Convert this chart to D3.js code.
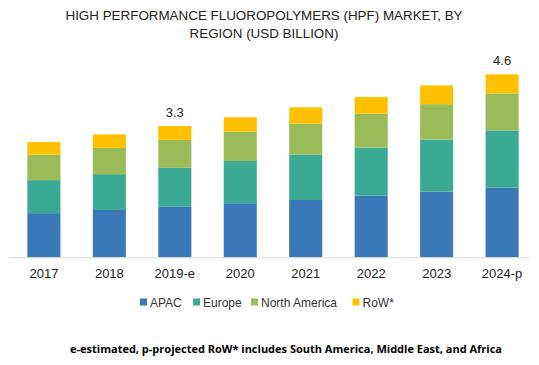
<!DOCTYPE html>
<html>
<head>
<meta charset="utf-8">
<script src="https://cdn.jsdelivr.net/npm/d3@7"></script>
<style>
  body { margin: 0; background: #fff; }
  svg { display: block; font-family: "Liberation Sans", Arial, sans-serif; }
</style>
</head>
<body>
<svg id="chart" width="539" height="365"></svg>
<script>
// chart data
var years = ["2017", "2018", "2019-e", "2020", "2021", "2022", "2023", "2024-p"];
var regions = ["APAC", "Europe", "North America", "RoW*"];
var apac = [1.11, 1.19, 1.27, 1.36, 1.44, 1.55, 1.65, 1.75];
var europe = [0.83, 0.90, 0.98, 1.06, 1.14, 1.21, 1.31, 1.44];
var northAmerica = [0.64, 0.66, 0.70, 0.74, 0.78, 0.85, 0.89, 0.93];
var row = [0.32, 0.34, 0.35, 0.36, 0.41, 0.42, 0.47, 0.48];
var totalLabels = ["", "", "3.3", "", "", "", "", "4.6"];

var colors = ["#3B78B8", "#3BAA94", "#9BBB59", "#FFC000"];

var svg = d3.select("#chart");

// build rows for the stack
var table = years.map(function (y, i) {
  return { year: y, "APAC": apac[i], "Europe": europe[i], "North America": northAmerica[i], "RoW*": row[i] };
});
var series = d3.stack().keys(regions)(table);

var x = d3.scaleBand()
  .domain(years)
  .range([11, 535])
  .paddingInner(0.495)
  .paddingOuter(0.25);

var y = d3.scaleLinear()
  .domain([0, 4.6])
  .range([257.3, 74.3]);

// title
var title = svg.append("text")
  .attr("x", 264)
  .attr("text-anchor", "middle")
  .attr("font-size", 13.4)
  .attr("fill", "#222");
title.append("tspan").attr("x", 264).attr("y", 20).text("HIGH PERFORMANCE FLUOROPOLYMERS (HPF) MARKET, BY");
title.append("tspan").attr("x", 264).attr("y", 38).text("REGION (USD BILLION)");

// bars
svg.append("g")
  .selectAll("g")
  .data(series)
  .enter().append("g")
  .attr("fill", function (d, i) { return colors[i]; })
  .selectAll("rect")
  .data(function (d) { return d; })
  .enter().append("rect")
  .attr("x", function (d) { return x(d.data.year); })
  .attr("width", x.bandwidth())
  .attr("y", function (d) { return y(d[1]); })
  .attr("height", function (d) { return y(d[0]) - y(d[1]); });

// axis
var axis = svg.append("g")
  .attr("transform", "translate(0," + y(0) + ")")
  .call(d3.axisBottom(x).tickSize(0).tickPadding(11));
axis.select(".domain").attr("stroke", "#d9d9d9").attr("d", "M10,0.5H530");
axis.selectAll("text")
  .attr("font-size", 13)
  .attr("font-family", "Liberation Sans, Arial, sans-serif")
  .attr("fill", "#222");

// total labels
var topSeries = series[series.length - 1];
svg.append("g")
  .selectAll("text")
  .data(topSeries)
  .enter().append("text")
  .attr("x", function (d) { return x(d.data.year) + x.bandwidth() / 2; })
  .attr("y", function (d) { return y(d[1]) - 9; })
  .attr("text-anchor", "middle")
  .attr("font-size", 13)
  .attr("fill", "#222")
  .text(function (d, i) { return totalLabels[i]; });

// legend
var legendX = [140, 193, 251, 352.5];
var legend = svg.append("g")
  .selectAll("g")
  .data(regions)
  .enter().append("g")
  .attr("transform", function (d, i) { return "translate(" + legendX[i] + ",302)"; });
legend.append("rect")
  .attr("y", -3.5)
  .attr("width", 7)
  .attr("height", 7)
  .attr("fill", function (d, i) { return colors[i]; });
legend.append("text")
  .attr("x", 10)
  .attr("y", 4.5)
  .attr("font-size", 12)
  .attr("fill", "#333")
  .text(function (d) { return d; });

// footnote
svg.append("text")
  .attr("x", 502)
  .attr("y", 353)
  .attr("text-anchor", "end")
  .attr("font-size", 11)
  .attr("font-weight", "bold")
  .attr("font-family", "Open Sans, sans-serif")
  .attr("fill", "#000")
  .text("e-estimated, p-projected RoW* includes South America, Middle East, and Africa");
</script>
</body>
</html>
